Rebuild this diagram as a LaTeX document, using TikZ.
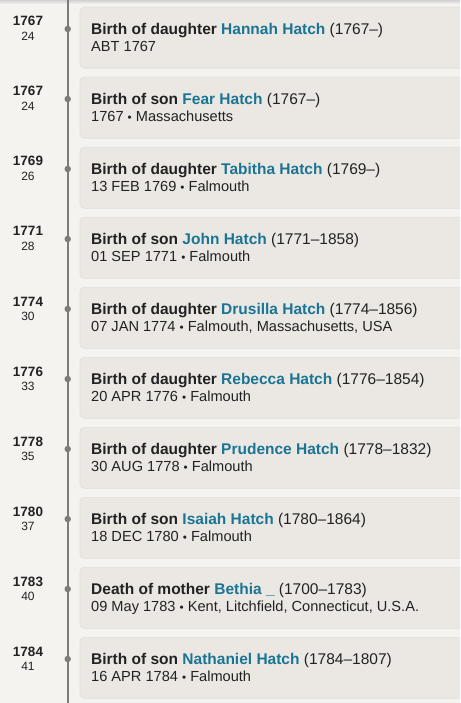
\documentclass[tikz,border=0pt]{standalone}
\usepackage{fontspec}
\setmainfont{Liberation Sans}
\usetikzlibrary{positioning}
\definecolor{pagebg}{HTML}{F5F3F0}
\definecolor{cardbg}{HTML}{EBE8E4}
\definecolor{cardedge}{HTML}{E2DFDB}
\definecolor{linegray}{HTML}{7C7C78}
\definecolor{linkteal}{HTML}{1A7494}
\definecolor{inkdark}{HTML}{222222}
\newcommand{\placedot}{ \raisebox{0.05ex}{\scalebox{0.8}{\textbullet}} }

\begin{document}
\begin{tikzpicture}[x=1pt,y=-1pt]
% 1 = 1px of the page, y runs downwards
    \def\WIDTH{460}
    \def\HEIGHT{703}
    \def\ROWGAP{70} %one row per event
    \def\LINEX{67.7} %timeline
    \def\YEARX{28}
    \def\CARDX{80}
    \def\TEXTX{91}

    \tikzset{
      yeartext/.style={anchor=base, inner sep=0pt, text=inkdark,
        font=\bfseries\fontsize{13.5}{15}\selectfont},
      agetext/.style={anchor=base, inner sep=0pt, text=inkdark,
        font=\fontsize{12}{14}\selectfont},
      titletext/.style={anchor=base west, inner sep=0pt, text=inkdark,
        font=\fontsize{15.5}{17}\selectfont},
      datetext/.style={anchor=base west, inner sep=0pt, text=inkdark,
        font=\fontsize{14.6}{16}\selectfont},
      card/.style={fill=cardbg, draw=cardedge, line width=0.6pt,
        rounded corners=4pt},
      tick/.style={circle, fill=linegray, inner sep=0pt, minimum size=6.5pt},
    }

    \useasboundingbox (0,0) rectangle (\WIDTH,\HEIGHT);
    \clip (0,0) rectangle (\WIDTH,\HEIGHT);

    % BACKGROUND
    \fill[pagebg] (0,0) rectangle (\WIDTH,\HEIGHT);
    \shade[top color=black!18, bottom color=pagebg] (0,0) rectangle (\WIDTH,4);

    % TIMELINE
    \coordinate (linetop) at (\LINEX,0);
    \coordinate (linebot) at (\LINEX,\HEIGHT);
    \draw[linegray, line width=2pt] (linetop) -- (linebot);

    % EVENTS
    \foreach \yr/\age/\ev/\who/\life/\when [count=\i from 0] in {
        1767/24/Birth of daughter/Hannah Hatch/(1767–)/{ABT 1767},
        1767/24/Birth of son/Fear Hatch/(1767–)/{1767\placedot Massachusetts},
        1769/26/Birth of daughter/Tabitha Hatch/(1769–)/{13 FEB 1769\placedot Falmouth},
        1771/28/Birth of son/John Hatch/(1771–1858)/{01 SEP 1771\placedot Falmouth},
        1774/30/Birth of daughter/Drusilla Hatch/(1774–1856)/{07 JAN 1774\placedot Falmouth, Massachusetts, USA},
        1776/33/Birth of daughter/Rebecca Hatch/(1776–1854)/{20 APR 1776\placedot Falmouth},
        1778/35/Birth of daughter/Prudence Hatch/(1778–1832)/{30 AUG 1778\placedot Falmouth},
        1780/37/Birth of son/Isaiah Hatch/(1780–1864)/{18 DEC 1780\placedot Falmouth},
        1783/40/Death of mother/Bethia \_/(1700–1783)/{09 May 1783\placedot Kent, Litchfield, Connecticut, U.S.A.},
        1784/41/Birth of son/Nathaniel Hatch/(1784–1807)/{16 APR 1784\placedot Falmouth}}
    {
      \pgfmathsetmacro{\TOP}{\i*\ROWGAP}
      % card
      \draw[card] (\CARDX,\TOP+7.3) rectangle (\WIDTH+10,\TOP+68.3);
      % tick on the line
      \node[tick] (dot\i) at (\LINEX,\TOP+29) {};
      % year and age
      \node[yeartext] (year\i) at (\YEARX,\TOP+26) {\yr};
      \node[agetext] (age\i) at (\YEARX,\TOP+40.7) {\age};
      % texts of the card
      \node[titletext] (title\i) at (\TEXTX,\TOP+34.3)
        {\textbf{\ev{} \textcolor{linkteal}{\who}} \life};
      \node[datetext] (date\i) at (\TEXTX,\TOP+51.7) {\when};
    }

\end{tikzpicture}
\end{document}
